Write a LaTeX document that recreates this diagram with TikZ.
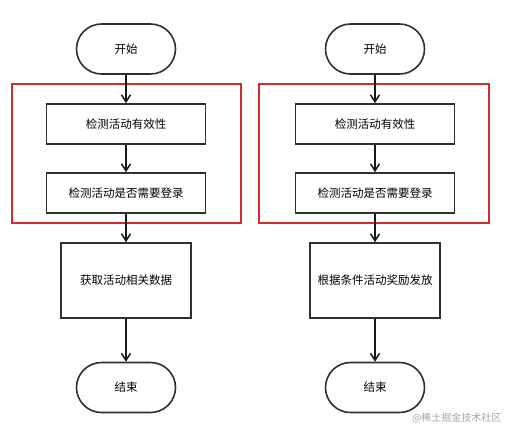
\documentclass[tikz,border=0pt]{standalone}
\usepackage{fontspec}
\setmainfont{Noto Sans CJK SC}
\usepackage{tikz}
\usetikzlibrary{arrows.meta}
\definecolor{edge}{HTML}{303030}
\definecolor{frame}{HTML}{D42A2A}
\tikzset{
  terminal/.style={draw=edge,line width=1.6pt,rounded corners=25pt,
    minimum width=99pt,minimum height=50pt,font=\fontsize{11.5}{13}\selectfont},
  stepbox/.style={draw=edge,line width=1.6pt,minimum width=159pt,
    minimum height=40pt,font=\fontsize{11.5}{13}\selectfont},
  bigbox/.style={draw=edge,line width=1.6pt,minimum width=130pt,
    minimum height=75pt,font=\fontsize{11.5}{13}\selectfont},
  flow/.style={-{Straight Barb[length=7pt,width=9pt,line width=1.5pt]},
    line width=1.6pt,black!90}
}

\begin{document}
\begin{tikzpicture}[x=1pt,y=-1pt]
  \useasboundingbox[fill=white] (0,0) rectangle (510,428);
  % red frames round the two checks
  \draw[frame,line width=1.3pt] (12,84) rectangle (241,223);
  \draw[frame,line width=1.3pt] (259,84) rectangle (489,223);
  % left flow
  \node[terminal] (lstart) at (126,49) {开始};
  \node[stepbox] (lcheck) at (126,124) {检测活动有效性};
  \node[stepbox] (llogin) at (126,193) {检测活动是否需要登录};
  \node[bigbox] (ldata) at (126,280.5) {获取活动相关数据};
  \node[terminal] (lend) at (126,387.5) {结束};
  \draw[flow] (lstart) -- (lcheck);
  \draw[flow] (lcheck) -- (llogin);
  \draw[flow] (llogin) -- (ldata);
  \draw[flow] (ldata) -- (lend);
  % right flow
  \node[terminal] (rstart) at (375,49) {开始};
  \node[stepbox] (rcheck) at (375,124) {检测活动有效性};
  \node[stepbox] (rlogin) at (375,193) {检测活动是否需要登录};
  \node[bigbox] (rprize) at (375,280.5) {根据条件活动奖励发放};
  \node[terminal] (rend) at (375,387.5) {结束};
  \draw[flow] (rstart) -- (rcheck);
  \draw[flow] (rcheck) -- (rlogin);
  \draw[flow] (rlogin) -- (rprize);
  \draw[flow] (rprize) -- (rend);
  % watermark
  \node[anchor=east,text=black!35,font=\fontsize{10}{12}\selectfont] (mark) at (505,418) {@稀土掘金技术社区};
\end{tikzpicture}
\end{document}
